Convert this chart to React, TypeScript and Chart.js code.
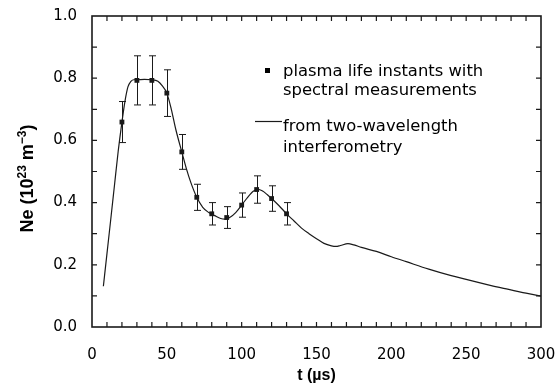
import React, { useEffect, useRef } from "react";
import { Chart, registerables } from "chart.js";

Chart.register(...registerables);

// Measured instants (spectral measurements)
const measTimes = [20, 30, 40, 50, 60, 70, 80, 90, 100, 110, 120, 130];
const measNe = [0.659, 0.793, 0.793, 0.752, 0.563, 0.417, 0.364, 0.352, 0.392, 0.442, 0.413, 0.364];
const measErr = [0.066, 0.079, 0.079, 0.075, 0.056, 0.042, 0.036, 0.035, 0.039, 0.044, 0.041, 0.036];

// Two-wavelength interferometry curve
const curveTimes = [7.6, 10, 12.5, 15, 17.5, 20, 22, 24, 26, 28, 30, 35, 40, 44, 47, 50, 53, 56, 60, 63, 66, 70, 74, 78, 82, 86, 89, 92, 96, 100, 104, 108, 111, 114, 117, 120, 125, 130, 135, 140, 145, 150, 155, 160, 163, 166, 171, 175, 180, 190, 200, 210, 225, 240, 250, 260, 275, 290, 300];
const curveNe = [0.131, 0.236, 0.345, 0.455, 0.565, 0.659, 0.725, 0.772, 0.79, 0.795, 0.795, 0.796, 0.795, 0.79, 0.775, 0.752, 0.7, 0.635, 0.563, 0.51, 0.465, 0.417, 0.385, 0.368, 0.358, 0.349, 0.347, 0.352, 0.368, 0.392, 0.417, 0.437, 0.443, 0.437, 0.426, 0.413, 0.39, 0.364, 0.341, 0.318, 0.3, 0.284, 0.269, 0.261, 0.259, 0.262, 0.268, 0.264, 0.256, 0.243, 0.226, 0.21, 0.186, 0.165, 0.153, 0.141, 0.124, 0.109, 0.099];

const legendLines1 = ["plasma life instants with", "spectral measurements"];
const legendLines2 = ["from two-wavelength", "interferometry"];

const INK = "#1a1a1a";

const framePlugin = {
  id: "frame",
  afterDraw(chart: any) {
    const { ctx, chartArea } = chart;
    const { left, right, top, bottom } = chartArea;
    const xs = chart.scales.x;
    const ys = chart.scales.y;
    ctx.save();
    ctx.strokeStyle = INK;
    // error bars
    ctx.lineWidth = 1;
    measTimes.forEach((t, i) => {
      const px = Math.round(xs.getPixelForValue(t)) + 0.5;
      const y1 = ys.getPixelForValue(measNe[i] + measErr[i]);
      const y2 = ys.getPixelForValue(measNe[i] - measErr[i]);
      ctx.beginPath();
      ctx.moveTo(px, y1);
      ctx.lineTo(px, y2);
      ctx.moveTo(px - 3.5, y1);
      ctx.lineTo(px + 3.5, y1);
      ctx.moveTo(px - 3.5, y2);
      ctx.lineTo(px + 3.5, y2);
      ctx.stroke();
    });
    // ticks
    const tl = 5;
    ctx.lineWidth = 1.2;
    ctx.beginPath();
    xs.ticks.forEach((tk: any) => {
      if (tk.value <= xs.min || tk.value >= xs.max) return;
      const px = xs.getPixelForValue(tk.value);
      ctx.moveTo(px, bottom);
      ctx.lineTo(px, bottom - tl);
      ctx.moveTo(px, top);
      ctx.lineTo(px, top + tl);
    });
    ys.ticks.forEach((tk: any) => {
      if (tk.value <= ys.min + 1e-9 || tk.value >= ys.max - 1e-9) return;
      const py = ys.getPixelForValue(tk.value);
      ctx.moveTo(left, py);
      ctx.lineTo(left + tl, py);
      ctx.moveTo(right, py);
      ctx.lineTo(right - tl, py);
    });
    ctx.stroke();
    // frame
    ctx.lineWidth = 1.6;
    ctx.strokeRect(left, top, right - left, bottom - top);

    // legend
    ctx.fillStyle = "#000";
    ctx.font = "16.4px 'DejaVu Sans'";
    ctx.textBaseline = "alphabetic";
    ctx.textAlign = "left";
    const lx = left + 191;
    ctx.fillRect(left + 173, top + 52, 5, 5);
    ctx.fillText(legendLines1[0], lx, top + 60);
    ctx.fillText(legendLines1[1], lx, top + 79);
    ctx.lineWidth = 1.2;
    ctx.beginPath();
    ctx.moveTo(left + 163, top + 105.5);
    ctx.lineTo(left + 190, top + 105.5);
    ctx.stroke();
    ctx.fillText(legendLines2[0], lx, top + 115);
    ctx.fillText(legendLines2[1], lx, top + 135.5);

    // x title
    ctx.font = "bold 16px 'Liberation Sans'";
    ctx.textAlign = "center";
    ctx.textBaseline = "middle";
    ctx.fillText("t (\u00b5s)", (left + right) / 2, 376);

    // y title with superscripts
    const parts = [
      { t: "Ne (10", sup: false },
      { t: "23", sup: true },
      { t: " m", sup: false },
      { t: "\u22123", sup: true },
      { t: ")", sup: false },
    ];
    const bigF = "bold 18px 'Liberation Sans'";
    const supF = "bold 12px 'Liberation Sans'";
    let total = 0;
    const widths = parts.map((p) => {
      ctx.font = p.sup ? supF : bigF;
      const w = ctx.measureText(p.t).width;
      total += w;
      return w;
    });
    ctx.translate(27, (top + bottom) / 2 + 7);
    ctx.rotate(-Math.PI / 2);
    ctx.textAlign = "left";
    ctx.textBaseline = "alphabetic";
    let cx = -total / 2;
    parts.forEach((p, i) => {
      ctx.font = p.sup ? supF : bigF;
      ctx.fillText(p.t, cx, p.sup ? -1.5 : 6);
      cx += widths[i];
    });
    ctx.restore();
  },
};

export default function App() {
  const ref = useRef<HTMLCanvasElement>(null);
  useEffect(() => {
    document.body.style.margin = "0";
    const chart = new Chart(ref.current!, {
      type: "line",
      data: {
        datasets: [
          {
            label: "from two-wavelength interferometry",
            data: curveTimes.map((t, i) => ({ x: t, y: curveNe[i] })),
            borderColor: INK,
            borderWidth: 1.2,
            pointRadius: 0,
            cubicInterpolationMode: "monotone",
            fill: false,
          },
          {
            label: "plasma life instants with spectral measurements",
            data: measTimes.map((t, i) => ({ x: t, y: measNe[i] })),
            showLine: false,
            pointStyle: "rect",
            pointRadius: 3.4,
            pointBorderWidth: 0,
            pointBackgroundColor: INK,
            borderColor: INK,
          },
        ],
      },
      options: {
        responsive: false,
        animation: false,
        layout: { padding: { top: 16, right: 17, left: 0, bottom: 0 } },
        plugins: { legend: { display: false }, tooltip: { enabled: false } },
        scales: {
          x: {
            type: "linear",
            min: 0,
            max: 300,
            grid: { display: false, drawTicks: false },
            border: { display: false },
            ticks: {
              stepSize: 10,
              autoSkip: false,
              maxRotation: 0,
              padding: 19,
              color: "#000",
              font: { family: "'DejaVu Sans'", size: 15 },
              callback: (v: any) => (Math.round(v) % 50 === 0 ? String(Math.round(v)) : ""),
            },
            afterFit: (s: any) => {
              s.height = 62;
              s.paddingLeft = 0;
              s.paddingRight = 0;
              s.paddingTop = 0;
              s.paddingBottom = 0;
            },
          },
          y: {
            type: "linear",
            min: 0,
            max: 1,
            grid: { display: false, drawTicks: false },
            border: { display: false },
            ticks: {
              stepSize: 0.1,
              autoSkip: false,
              padding: 15,
              color: "#000",
              font: { family: "'DejaVu Sans'", size: 15 },
              callback: (v: any) => (Math.round(v * 10) % 2 === 0 ? Number(v).toFixed(1) : ""),
            },
            afterFit: (s: any) => {
              s.width = 92;
              s.paddingLeft = 0;
              s.paddingRight = 0;
              s.paddingTop = 0;
              s.paddingBottom = 0;
            },
          },
        },
      },
      plugins: [framePlugin],
    });
    return () => chart.destroy();
  }, []);
  return (
    <div style={{ position: "fixed", left: 0, top: 0, width: 558, height: 389, background: "#fff" }}>
      <canvas ref={ref} width={558} height={389} />
    </div>
  );
}
